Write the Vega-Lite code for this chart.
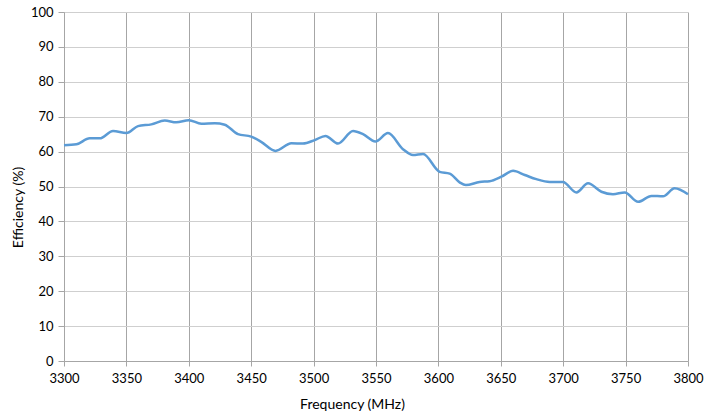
{
  "$schema": "https://vega.github.io/schema/vega-lite/v6.json",
  "width": 624,
  "height": 349,
  "autosize": {"type": "none"},
  "padding": {"left": 64, "top": 12, "right": 33, "bottom": 51},
  "background": "white",
  "config": {
    "view": {"stroke": null},
    "font": "Lato"
  },
  "data": {
    "values": [
      {"f": 3300, "e": 61.8},
      {"f": 3310, "e": 62.1},
      {"f": 3320.6, "e": 63.8},
      {"f": 3328.6, "e": 63.8},
      {"f": 3339.3, "e": 65.9},
      {"f": 3350, "e": 65.3},
      {"f": 3359.3, "e": 67.3},
      {"f": 3370, "e": 67.8},
      {"f": 3380.7, "e": 68.9},
      {"f": 3390, "e": 68.4},
      {"f": 3400, "e": 69.0},
      {"f": 3410, "e": 68.0},
      {"f": 3420.8, "e": 68.1},
      {"f": 3428.8, "e": 67.7},
      {"f": 3439.4, "e": 65.0},
      {"f": 3450, "e": 64.3},
      {"f": 3458, "e": 62.8},
      {"f": 3469.5, "e": 60.2},
      {"f": 3482.2, "e": 62.4},
      {"f": 3491.5, "e": 62.3},
      {"f": 3500.9, "e": 63.3},
      {"f": 3509.5, "e": 64.5},
      {"f": 3519.6, "e": 62.3},
      {"f": 3531.6, "e": 65.9},
      {"f": 3539.6, "e": 65.0},
      {"f": 3549.5, "e": 62.9},
      {"f": 3559.6, "e": 65.3},
      {"f": 3571.6, "e": 60.7},
      {"f": 3579.6, "e": 59.0},
      {"f": 3587.7, "e": 59.3},
      {"f": 3601, "e": 54.2},
      {"f": 3609, "e": 53.7},
      {"f": 3617, "e": 51.2},
      {"f": 3622, "e": 50.4},
      {"f": 3633, "e": 51.3},
      {"f": 3641, "e": 51.5},
      {"f": 3650.5, "e": 52.8},
      {"f": 3659.8, "e": 54.5},
      {"f": 3669.2, "e": 53.3},
      {"f": 3678.5, "e": 52.1},
      {"f": 3689.2, "e": 51.3},
      {"f": 3699.8, "e": 51.3},
      {"f": 3710.6, "e": 48.3},
      {"f": 3719.9, "e": 50.9},
      {"f": 3730.6, "e": 48.5},
      {"f": 3739.9, "e": 47.8},
      {"f": 3749.3, "e": 48.3},
      {"f": 3760, "e": 45.6},
      {"f": 3770.7, "e": 47.3},
      {"f": 3780, "e": 47.2},
      {"f": 3789.3, "e": 49.5},
      {"f": 3800, "e": 47.8}
    ]
  },
  "mark": {"type": "line", "interpolate": "monotone", "color": "#5b9bd5", "strokeWidth": 2.5},
  "encoding": {
    "x": {
      "field": "f",
      "type": "quantitative",
      "scale": {"domain": [3300, 3800], "nice": false, "zero": false},
      "axis": {
        "values": [3300, 3350, 3400, 3450, 3500, 3550, 3600, 3650, 3700, 3750, 3800],
        "format": "d",
        "title": "Frequency (MHz)",
        "titleFontSize": 14,
        "titleFontWeight": "normal",
        "titleColor": "#000000",
        "titleX": 288,
        "titleY": 43,
        "titleBaseline": "middle",
        "labelFontSize": 13,
        "labelColor": "#000000",
        "labelPadding": 6,
        "labelFlush": false,
        "grid": true,
        "gridColor": "#a6a6a6",
        "gridWidth": 1,
        "domainColor": "#a6a6a6",
        "tickColor": "#a6a6a6",
        "tickSize": 5
      }
    },
    "y": {
      "field": "e",
      "type": "quantitative",
      "scale": {"domain": [0, 100], "nice": false},
      "axis": {
        "values": [0, 10, 20, 30, 40, 50, 60, 70, 80, 90, 100],
        "title": "Efficiency (%)",
        "titleFontSize": 14,
        "titleFontWeight": "normal",
        "titleColor": "#000000",
        "titleX": -46,
        "titleY": 195,
        "titleBaseline": "middle",
        "labelFontSize": 13,
        "labelColor": "#000000",
        "labelPadding": 5,
        "grid": true,
        "gridColor": "#cfcfcf",
        "gridWidth": 1,
        "domainColor": "#a6a6a6",
        "tickColor": "#a6a6a6",
        "tickSize": 6
      }
    }
  }
}
